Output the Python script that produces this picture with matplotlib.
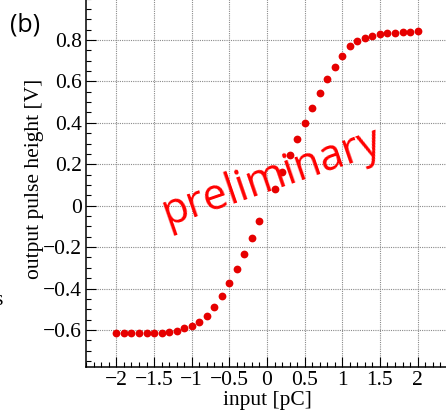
import matplotlib
matplotlib.use("Agg")
import matplotlib.pyplot as plt
from matplotlib.ticker import MultipleLocator, FixedLocator

# ---- data ----
x_input = [-2.0, -1.9, -1.8, -1.7, -1.6, -1.5, -1.4, -1.3, -1.2, -1.1,
           -1.0, -0.9, -0.8, -0.7, -0.6, -0.5, -0.4, -0.3, -0.2, -0.1,
           0.1, 0.2, 0.3, 0.4, 0.5, 0.6, 0.7, 0.8, 0.9, 1.0,
           1.1, 1.2, 1.3, 1.4, 1.5, 1.6, 1.7, 1.8, 1.9, 2.0]
y_output = [-0.616, -0.616, -0.616, -0.616, -0.616, -0.616, -0.615, -0.610, -0.605, -0.592,
            -0.581, -0.560, -0.534, -0.491, -0.436, -0.373, -0.306, -0.232, -0.156, -0.075,
            0.081, 0.161, 0.245, 0.322, 0.398, 0.473, 0.546, 0.610, 0.668, 0.723,
            0.770, 0.797, 0.810, 0.821, 0.828, 0.832, 0.835, 0.837, 0.840, 0.844]
xtick_vals = [-2, -1.5, -1, -0.5, 0, 0.5, 1, 1.5, 2]
xtick_labels = ['\u22122', '\u22121.5', '\u22121', '\u22120.5', '0', '0.5', '1', '1.5', '2']
ytick_vals = [-0.6, -0.4, -0.2, 0, 0.2, 0.4, 0.6, 0.8]
ytick_labels = ['\u22120.6', '\u22120.4', '\u22120.2', '0', '0.2', '0.4', '0.6', '0.8']

W, H = 446, 415
fig = plt.figure(figsize=(W / 100, H / 100), dpi=100)
ax = fig.add_axes([86.3 / W, (H - 367.2) / H, 361.4 / W, 368.6 / H])

serif = ['Liberation Serif', 'DejaVu Serif']
fs = 15.5

ax.plot(x_input, y_output, 'o', color='#e60000', markersize=5.6,
        markeredgewidth=0, zorder=3)

ax.set_xlim(-2.4, 2.4)
ax.set_ylim(-0.78, 1.0)

ax.xaxis.set_major_locator(FixedLocator(xtick_vals))
ax.set_xticklabels(xtick_labels, fontfamily=serif, fontsize=fs)
ax.yaxis.set_major_locator(FixedLocator(ytick_vals))
ax.set_yticklabels(ytick_labels, fontfamily=serif, fontsize=fs)
ax.xaxis.set_minor_locator(MultipleLocator(0.1))
ax.yaxis.set_minor_locator(MultipleLocator(0.05))

ax.tick_params(which='major', direction='in', length=7.2, width=0.8, pad=3,
               top=False, right=False)
ax.tick_params(which='minor', direction='in', length=3.6, width=0.8,
               top=False, right=False)

for s in ax.spines.values():
    s.set_linewidth(1.1)

ax.grid(True, which='major', linestyle=(0, (1, 1)), color='#8a8a8a', linewidth=0.8)
ax.set_axisbelow(True)

ax.set_xlabel('input [pC]', fontfamily=serif, fontsize=fs)
ax.xaxis.set_label_coords(0.5, -0.089)
ax.xaxis.label.set_verticalalignment('center')
ax.set_ylabel('output pulse height [V]', fontfamily=serif, fontsize=fs)
ax.yaxis.set_label_coords(-0.142, 0.512)
ax.yaxis.label.set_verticalalignment('center')

# panel label
fig.text(10 / W, 1 - 25 / H, '(b)', fontfamily=['Open Sans', 'DejaVu Sans'],
         fontsize=18, ha='left', va='center')

# stray clipped character at far left (as in the reference)
fig.text(-6 / W, 1 - 300 / H, 's', fontfamily=serif, fontsize=fs,
         ha='left', va='center')

# overlay watermark
fig.text(272 / W, 1 - 178 / H, 'preliminary', fontfamily=['Open Sans', 'DejaVu Sans'],
         fontsize=31, color='#ff0000', rotation=19, rotation_mode='anchor',
         ha='center', va='center', zorder=10)

fig.savefig('out.png', dpi=100)
